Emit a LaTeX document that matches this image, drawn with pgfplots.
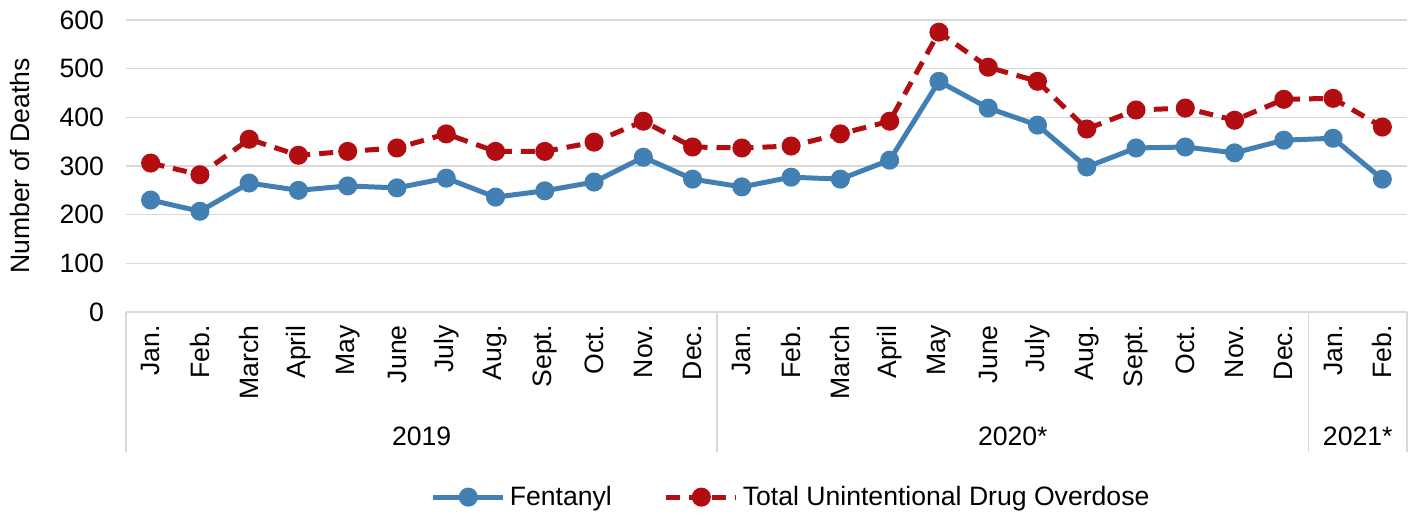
\documentclass[border=0pt]{standalone}
\usepackage{pgfplots}
\pgfplotsset{compat=1.18}
\usepackage{fontspec}
\setmainfont{Liberation Sans}
\definecolor{fent}{RGB}{66,128,180}
\definecolor{tot}{RGB}{178,14,18}
\definecolor{gridc}{RGB}{217,217,217}
\newcommand{\fs}{\fontsize{13.3}{15}\selectfont}
\begin{document}
\begin{tikzpicture}
\begin{axis}[
  scale only axis, width=640.5pt, height=146pt,
  xmin=0.5, xmax=26.5, ymin=0, ymax=600,
  ytick={0,100,...,600},
  xtick={1,...,26},
  xticklabels={Jan.,Feb.,March,April,May,June,July,Aug.,Sept.,Oct.,Nov.,Dec.,Jan.,Feb.,March,April,May,June,July,Aug.,Sept.,Oct.,Nov.,Dec.,Jan.,Feb.},
  xticklabel style={rotate=90, anchor=east, inner xsep=6.5pt},
  major tick length=0pt,
  axis x line*=bottom, axis y line*=left,
  x axis line style={gridc, line width=0.8pt, -},
  y axis line style={draw=none},
  ymajorgrids, grid style={gridc, line width=0.8pt},
  every tick label/.append style={font=\fs},
  /pgf/number format/assume math mode=true,
  yticklabel style={xshift=-7.5pt},
  ylabel={Number of Deaths},
  every axis y label/.style={at={(rel axis cs:0,0.5)}, xshift=-53pt, rotate=90, anchor=center, font=\fs},
  clip=false,
  legend columns=2,
  legend style={at={(0.52,-0.634)}, anchor=center, draw=none, font=\fs,
    /tikz/every even column/.append style={column sep=24pt}},
  legend image code/.code={
    \draw[#1, mark repeat=2, mark phase=2] plot coordinates {(0pt,0pt) (17.5pt,0pt) (35pt,0pt)};},
]
\addplot[fent, line width=2.5pt, mark=*, mark size=3.5pt, mark options={solid}] coordinates {
(1,230)(2,207)(3,265)(4,250)(5,259)(6,255)(7,275)(8,236)(9,249)(10,267)(11,318)(12,273)
(13,257)(14,277)(15,273)(16,312)(17,474)(18,419)(19,384)(20,298)(21,337)(22,339)(23,327)(24,353)
(25,357)(26,273)};
\addlegendentry{Fentanyl}
\addplot[tot, line width=2.5pt, dash pattern=on 7pt off 4.5pt, mark=*, mark size=3.5pt, mark options={solid}] coordinates {
(1,306)(2,282)(3,355)(4,322)(5,330)(6,337)(7,366)(8,330)(9,330)(10,349)(11,392)(12,339)
(13,337)(14,341)(15,366)(16,392)(17,575)(18,503)(19,474)(20,376)(21,415)(22,419)(23,394)(24,437)
(25,439)(26,380)};
\addlegendentry{Total Unintentional Drug Overdose}
\coordinate (bl) at (rel axis cs:0,0);
\draw[gridc, line width=0.8pt] (axis cs:0.5,0) -- ([yshift=-70pt]axis cs:0.5,0);
\draw[gridc, line width=0.8pt] (axis cs:12.5,0) -- ([yshift=-70pt]axis cs:12.5,0);
\draw[gridc, line width=0.8pt] (axis cs:24.5,0) -- ([yshift=-70pt]axis cs:24.5,0);
\draw[gridc, line width=0.8pt] (axis cs:26.5,0) -- ([yshift=-70pt]axis cs:26.5,0);
\node[font=\fs] at ([yshift=-62pt]axis cs:6.5,0) {2019};
\node[font=\fs] at ([yshift=-62pt]axis cs:18.5,0) {2020*};
\node[font=\fs] at ([yshift=-62pt]axis cs:25.5,0) {2021*};
\end{axis}
\pgfresetboundingbox
\path ([shift={(-63pt,-102.5pt)}]bl) rectangle ([shift={(643.5pt,156pt)}]bl);
\end{tikzpicture}
\end{document}
